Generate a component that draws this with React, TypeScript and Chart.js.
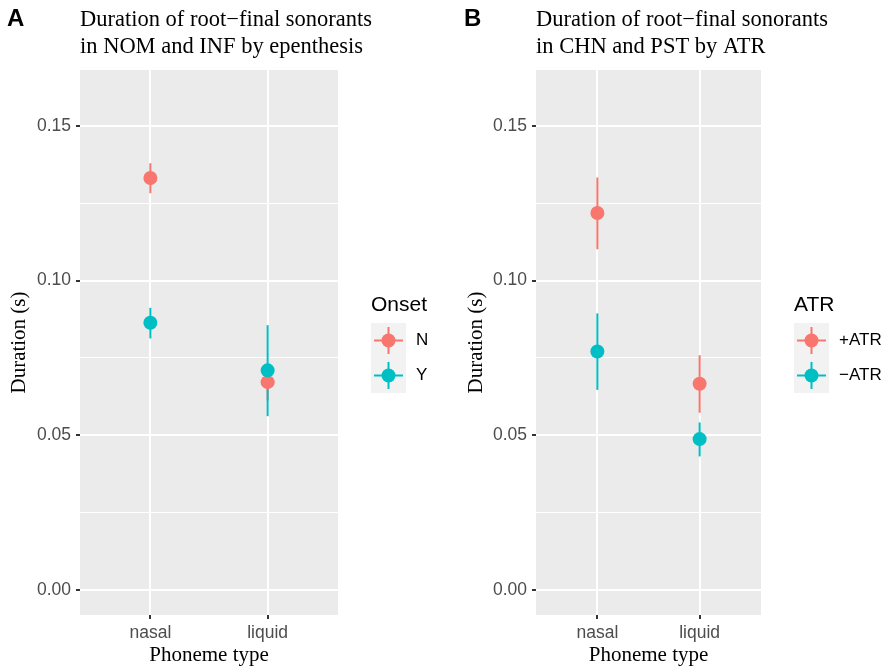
import React, { useEffect, useRef } from 'react';
import { Chart, registerables } from 'chart.js';

Chart.register(...registerables);

// ---------- data ----------
const categories = ['nasal', 'liquid'];
const yMajorTicks = [0, 0.05, 0.1, 0.15];
const yMinorTicks = [0.025, 0.075, 0.125];
const yMin = -0.008;
const yMax = 0.168;

const seriesColors = ['#F8766D', '#00BFC4'];

// Panel A: Onset
const panelATitle = ['Duration of root\u2212final sonorants', 'in NOM and INF by epenthesis'];
const onsetLabels = ['N', 'Y'];
const onsetNMean = [0.1331, 0.0672];
const onsetNLow = [0.1282, 0.0613];
const onsetNHigh = [0.1379, 0.0731];
const onsetYMean = [0.0864, 0.071];
const onsetYLow = [0.0813, 0.0562];
const onsetYHigh = [0.0912, 0.0856];

// Panel B: ATR
const panelBTitle = ['Duration of root\u2212final sonorants', 'in CHN and PST by ATR'];
const atrLabels = ['+ATR', '\u2212ATR'];
const atrPlusMean = [0.1218, 0.0667];
const atrPlusLow = [0.1101, 0.0573];
const atrPlusHigh = [0.1333, 0.0759];
const atrMinusMean = [0.0771, 0.0488];
const atrMinusLow = [0.0647, 0.0432];
const atrMinusHigh = [0.0894, 0.0542];

const xTitle = 'Phoneme type';
const yTitle = 'Duration (s)';

const SANS = '"Liberation Sans", Arial, sans-serif';
const SERIF = '"Liberation Serif", "Times New Roman", serif';

type PanelProps = {
  letter: string;
  title: string[];
  legendTitle: string;
  labels: string[];
  means: number[][];
  lows: number[][];
  highs: number[][];
  left: number;
  width: number;
  plotRight: number;
  axisWidth: number;
};

function Panel(props: PanelProps) {
  const ref = useRef<HTMLCanvasElement>(null);
  useEffect(() => {
    const { letter, title, legendTitle, labels, means, lows, highs, width, plotRight, axisWidth } = props;
    const canvas = ref.current;
    if (!canvas) return;

    const bgPlugin = {
      id: 'panelBg',
      beforeDraw(chart: any) {
        const { ctx, chartArea } = chart;
        ctx.save();
        ctx.fillStyle = '#EBEBEB';
        ctx.fillRect(chartArea.left, chartArea.top, chartArea.right - chartArea.left, chartArea.bottom - chartArea.top);
        ctx.restore();
      },
    };

    const errPlugin = {
      id: 'errBars',
      beforeDatasetsDraw(chart: any) {
        const { ctx } = chart;
        const xs = chart.scales.x;
        const ys = chart.scales.y;
        ctx.save();
        ctx.lineWidth = 2;
        ctx.lineCap = 'butt';
        labels.forEach((_, i) => {
          ctx.strokeStyle = seriesColors[i];
          categories.forEach((_c, j) => {
            const px = xs.getPixelForValue(j);
            ctx.beginPath();
            ctx.moveTo(px, ys.getPixelForValue(lows[i][j]));
            ctx.lineTo(px, ys.getPixelForValue(highs[i][j]));
            ctx.stroke();
          });
        });
        ctx.restore();
      },
    };

    const decoPlugin = {
      id: 'deco',
      afterDraw(chart: any) {
        const { ctx, chartArea } = chart;
        ctx.save();
        // panel letter
        ctx.fillStyle = '#000000';
        ctx.textBaseline = 'alphabetic';
        ctx.textAlign = 'left';
        ctx.font = `bold 24px ${SANS}`;
        ctx.fillText(letter, 7, 26);
        // title
        ctx.font = `22.5px ${SERIF}`;
        title.forEach((line, k) => {
          ctx.fillText(line, chartArea.left, 26 + k * 27);
        });
        // legend
        const bx = chartArea.right + 33;
        const keySize = 35;
        const top = 323;
        ctx.font = `21px ${SANS}`;
        ctx.fillText(legendTitle, bx, 311);
        labels.forEach((lab, i) => {
          const ky = top + i * keySize;
          ctx.fillStyle = '#F2F2F2';
          ctx.fillRect(bx, ky, keySize, keySize);
          const cx = bx + keySize / 2;
          const cy = ky + keySize / 2;
          ctx.strokeStyle = seriesColors[i];
          ctx.lineWidth = 2;
          ctx.beginPath();
          ctx.moveTo(bx + 3, cy);
          ctx.lineTo(bx + keySize - 3, cy);
          ctx.moveTo(cx, ky + 4);
          ctx.lineTo(cx, ky + keySize - 4);
          ctx.stroke();
          ctx.fillStyle = seriesColors[i];
          ctx.beginPath();
          ctx.arc(cx, cy, 7, 0, Math.PI * 2);
          ctx.fill();
          ctx.fillStyle = '#000000';
          ctx.font = `17px ${SANS}`;
          ctx.textBaseline = 'middle';
          ctx.fillText(lab, bx + keySize + 10, cy);
          ctx.textBaseline = 'alphabetic';
        });
        ctx.restore();
      },
    };

    const allYTicks = [...yMajorTicks, ...yMinorTicks].sort((a, b) => a - b);

    const chart = new Chart(canvas, {
      type: 'scatter',
      data: {
        datasets: labels.map((lab, i) => ({
          label: lab,
          data: means[i].map((m, j) => ({ x: j, y: m })),
          backgroundColor: seriesColors[i],
          borderColor: seriesColors[i],
          borderWidth: 0,
          pointRadius: 7,
          pointHoverRadius: 7,
          order: labels.length - i,
        })),
      },
      options: {
        responsive: false,
        animation: false,
        devicePixelRatio: 1,
        events: [],
        layout: { padding: { top: 70, right: width - plotRight, bottom: 0, left: 0 } },
        plugins: { legend: { display: false }, tooltip: { enabled: false } },
        scales: {
          x: {
            type: 'linear',
            min: -0.6,
            max: 1.6,
            bounds: 'data',
            afterBuildTicks: (s: any) => {
              s.ticks = categories.map((_, i) => ({ value: i }));
            },
            afterFit: (s: any) => {
              s.height = 53;
            },
            ticks: {
              autoSkip: false,
              maxRotation: 0,
              padding: 4,
              color: '#4D4D4D',
              font: { family: SANS, size: 17.5 },
              callback: (v: any) => categories[v as number] ?? '',
            },
            grid: { color: '#FFFFFF', lineWidth: 2, tickLength: 4, tickColor: '#333333', tickWidth: 2 },
            border: { display: false },
            title: {
              display: true,
              text: xTitle,
              color: '#000000',
              font: { family: SERIF, size: 21 },
              padding: { top: 0, bottom: 0 },
            },
          },
          y: {
            type: 'linear',
            min: yMin,
            max: yMax,
            bounds: 'data',
            afterBuildTicks: (s: any) => {
              s.ticks = allYTicks.map((v) => ({ value: v }));
            },
            afterFit: (s: any) => {
              s.width = axisWidth;
            },
            ticks: {
              autoSkip: false,
              padding: 5,
              color: '#4D4D4D',
              font: { family: SANS, size: 17.5 },
              callback: (v: any) => (yMajorTicks.includes(v as number) ? (v as number).toFixed(2) : ''),
            },
            grid: {
              color: '#FFFFFF',
              lineWidth: (c: any) => (c.tick && yMajorTicks.includes(c.tick.value) ? 2 : 1),
              tickLength: 4,
              tickWidth: 2,
              tickColor: (c: any) => (c.tick && yMajorTicks.includes(c.tick.value) ? '#333333' : 'rgba(0,0,0,0)'),
            },
            border: { display: false },
            title: {
              display: true,
              text: yTitle,
              color: '#000000',
              font: { family: SERIF, size: 21 },
              padding: { top: 7, bottom: 0 },
            },
          },
        },
      } as any,
      plugins: [bgPlugin, errPlugin, decoPlugin],
    });
    return () => chart.destroy();
  }, []);
  return (
    <canvas
      ref={ref}
      width={props.width}
      height={668}
      style={{ position: 'absolute', left: props.left, top: 0, width: props.width, height: 668 }}
    />
  );
}

export default function App() {
  useEffect(() => {
    document.body.style.margin = '0';
  }, []);
  return (
    <div style={{ position: 'absolute', left: 0, top: 0, width: 886, height: 668, background: '#FFFFFF' }}>
      <Panel
        letter="A"
        title={panelATitle}
        legendTitle="Onset"
        labels={onsetLabels}
        means={[onsetNMean, onsetYMean]}
        lows={[onsetNLow, onsetYLow]}
        highs={[onsetNHigh, onsetYHigh]}
        left={0}
        width={450}
        plotRight={338}
        axisWidth={80}
      />
      <Panel
        letter="B"
        title={panelBTitle}
        legendTitle="ATR"
        labels={atrLabels}
        means={[atrPlusMean, atrMinusMean]}
        lows={[atrPlusLow, atrMinusLow]}
        highs={[atrPlusHigh, atrMinusHigh]}
        left={457}
        width={429}
        plotRight={304}
        axisWidth={79}
      />
    </div>
  );
}
